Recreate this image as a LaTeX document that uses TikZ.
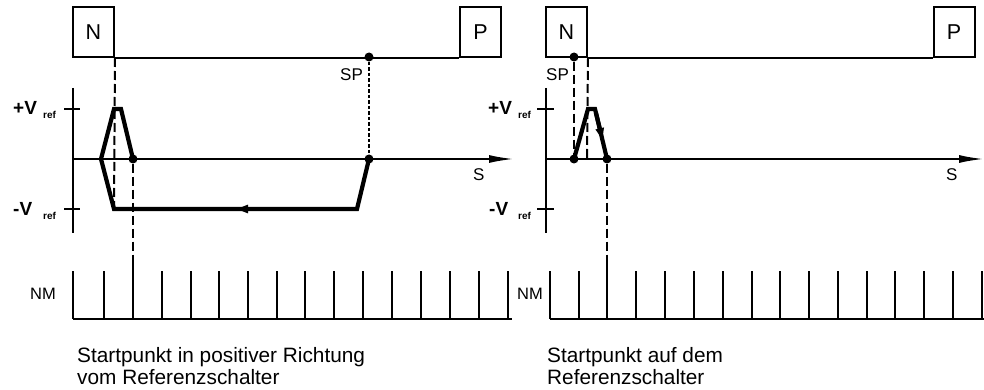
\documentclass[tikz,border=0pt]{standalone}
\usepackage{fontspec}
\setmainfont{Liberation Sans}
\usetikzlibrary{arrows.meta}
\begin{document}
\begin{tikzpicture}[x=1pt,y=-1pt,
  thinln/.style={line width=2pt},
  thickln/.style={line width=4.2pt, line join=miter},
  dashL/.style={line width=2pt, dash pattern=on 9pt off 4pt},
  dashS/.style={line width=2pt, dash pattern=on 3.5pt off 2pt},
  dot/.style={circle, fill=black, inner sep=0pt, minimum size=9pt},
  switchbox/.style={draw, line width=2pt, inner sep=0pt, minimum width=41pt, minimum height=50pt, font=\fontsize{21.5}{21.5}\selectfont},
  lbl/.style={inner sep=0pt, anchor=base west, font=\fontsize{17}{17}\selectfont},
  vlbl/.style={inner sep=0pt, anchor=base west, font=\bfseries\fontsize{19}{19}\selectfont},
  sublbl/.style={inner sep=0pt, anchor=base west, font=\bfseries\fontsize{10}{10}\selectfont},
  caption/.style={inner sep=0pt, anchor=base west, font=\fontsize{20.8}{20.8}\selectfont},
  axisarrow/.style={line width=2pt, -{Latex[length=25pt,width=8pt]}},
  patharrow/.style={line width=4.2pt, -{Latex[length=16pt,width=9pt]}}
]
\useasboundingbox (0,0) rectangle (984,390);

% ================= LEFT DIAGRAM =================
\node[switchbox] (NL) at (93.5,32) {N};
\node[switchbox] (PL) at (480.5,32) {P};
\draw[thinln] (NL.south east) -- (PL.south west);
\node[dot] (spL) at (369,57) {};
\node[lbl] (spLt) at (340,81) {SP};

% axes
\coordinate (yaL1) at (73,88);
\coordinate (yaL2) at (73,233);
\draw[thinln] (yaL1) -- (yaL2);
\draw[thinln] (64,109) -- (80,109);
\draw[thinln] (64,209) -- (80,209);
\coordinate (xaL0) at (73,159);
\coordinate (xaL1) at (514,159);
\draw[axisarrow] (xaL0) -- (xaL1);
\node[lbl] (sL) at (473,180) {S};

\node[vlbl] (pvL) at (13,115) {+V};
\node[sublbl] (pvLs) at (43,119) {ref};
\node[vlbl] (mvL) at (13,215) {-V};
\node[sublbl] (mvLs) at (43,219) {ref};

% curve
\node[dot] (aL1) at (369,159) {};
\node[dot] (aL2) at (133,159) {};
\draw[thickln] (aL1.center) -- (357,209) -- (114,209) -- (101,159) -- (114,109) -- (121,109) -- (aL2.center);
\draw[patharrow] (252,209) -- (232,209);

% dashed
\draw[dashS] (spL) -- (aL1);
\coordinate (dL1) at (114,209);
\draw[dashL] (NL.south east) -- (dL1);
\coordinate (tkL) at (133,263);
\draw[dashL] (aL2) -- (tkL);

% NM ticks
\node[lbl, font=\fontsize{16.5}{16.5}\selectfont] (nmL) at (30,299) {NM};
\draw[thinln] (73,319) -- (512,319);
\foreach \x in {73,104,162,191,219,248,277,305,334,363,392,421,450,479,508}
  \draw[thinln] (\x,271) -- (\x,319);
\draw[thinln] (tkL) -- (133,319);

\node[caption] (capL1) at (77,362) {Startpunkt in positiver Richtung};
\node[caption] (capL2) at (77,384) {vom Referenzschalter};

% ================= RIGHT DIAGRAM =================
\node[switchbox] (NR) at (566.5,32) {N};
\node[switchbox] (PR) at (954,32) {P};
\draw[thinln] (NR.south east) -- (PR.south west);
\node[dot] (spR) at (574,57) {};
\node[lbl] (spRt) at (546,81) {SP};

\coordinate (yaR1) at (546,88);
\coordinate (yaR2) at (546,233);
\draw[thinln] (yaR1) -- (yaR2);
\draw[thinln] (537,109) -- (554,109);
\draw[thinln] (537,209) -- (554,209);
\coordinate (xaR0) at (546,159);
\coordinate (xaR1) at (984,159);
\draw[axisarrow] (xaR0) -- (xaR1);
\node[lbl] (sR) at (946,180) {S};

\node[vlbl] (pvR) at (488,115) {+V};
\node[sublbl] (pvRs) at (518,119) {ref};
\node[vlbl] (mvR) at (489,215) {-V};
\node[sublbl] (mvRs) at (518,219) {ref};

\node[dot] (bR1) at (574,159) {};
\node[dot] (bR2) at (607,159) {};
\draw[thickln] (bR1.center) -- (588,109) -- (595,109) -- (bR2.center);
\draw[patharrow] (596,113) -- (603.5,144);

\draw[dashL] (spR) -- (bR1);
\coordinate (dR1) at (587,159);
\draw[dashL] (NR.south east) -- (dR1);
\coordinate (tkR) at (607,263);
\draw[dashL] (bR2) -- (tkR);

\node[lbl, font=\fontsize{16.5}{16.5}\selectfont] (nmR) at (517,299) {NM};
\draw[thinln] (550,319) -- (984,319);
\foreach \x in {550,579,636,665,694,723,752,780,809,838,867,895,924,953,982}
  \draw[thinln] (\x,271) -- (\x,319);
\draw[thinln] (tkR) -- (607,319);

\node[caption] (capR1) at (547,362) {Startpunkt auf dem};
\node[caption] (capR2) at (547,384) {Referenzschalter};
\end{tikzpicture}
\end{document}
